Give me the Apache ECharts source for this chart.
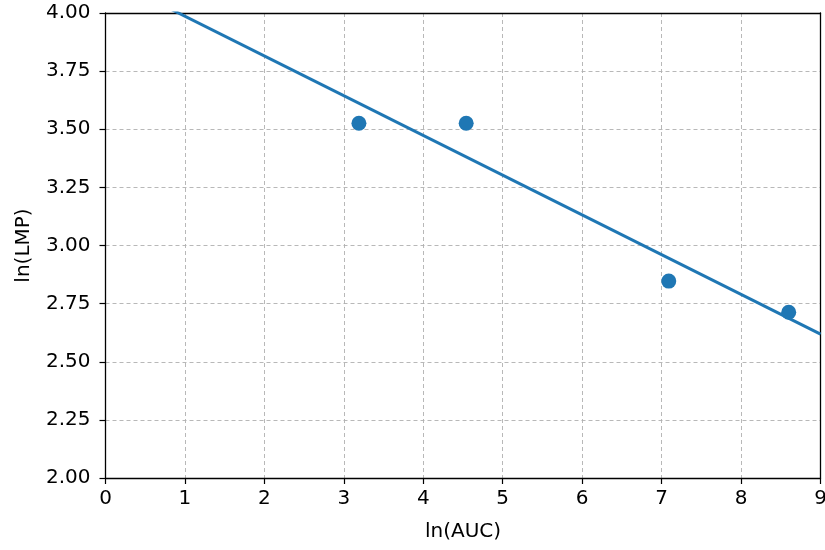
<!DOCTYPE html>
<html><head><meta charset="utf-8">
<script src="https://cdn.jsdelivr.net/npm/echarts@6/dist/echarts.min.js"></script>
<style>html,body{margin:0;padding:0;background:#fff}#c{width:825px;height:550px}</style>
</head><body><div id="c"></div>
<script>
const pointsX = [3.19, 4.54, 7.09, 8.6];
const pointsY = [3.526, 3.526, 2.847, 2.713];
const fitX = [0, 9];
const fitY = [4.157, 2.619];
const xTicks = [0,1,2,3,4,5,6,7,8,9];
const yTicks = [2.00,2.25,2.50,2.75,3.00,3.25,3.50,3.75,4.00];

const font = 'DejaVu Sans';
const chart = echarts.init(document.getElementById('c'));
const axisCommon = {
  axisLine:{show:true,onZero:false,lineStyle:{color:'#000',width:1.3}},
  axisTick:{show:true,inside:false,length:6,lineStyle:{color:'#000',width:1.2}},
  axisLabel:{color:'#000',fontFamily:font,fontSize:20},
  splitLine:{show:true,lineStyle:{color:'#b0b0b0',type:[4,3],width:0.9}},
  nameLocation:'middle',
  nameTextStyle:{color:'#000',fontFamily:font,fontSize:20}
};
const borderAxis = {type:'value',axisLine:{show:true,onZero:false,lineStyle:{color:'#000',width:1.3}},
  axisTick:{show:false},axisLabel:{show:false},splitLine:{show:false}};
chart.setOption({
  animation:false,
  grid:{left:105.5,right:4.5,top:13,bottom:72,outerBoundsMode:'none',containLabel:false},
  xAxis:[Object.assign({},axisCommon,{type:'value',min:0,max:9,interval:1,name:'ln(AUC)',nameGap:44,
    axisLabel:Object.assign({},axisCommon.axisLabel,{margin:11,formatter:v=>String(v)})}),
    Object.assign({},borderAxis,{position:'top',min:0,max:9})],
  yAxis:[Object.assign({},axisCommon,{type:'value',min:2,max:4,interval:0.25,name:'ln(LMP)',nameGap:72,
    axisLabel:Object.assign({},axisCommon.axisLabel,{margin:15,formatter:v=>v.toFixed(2)})}),
    Object.assign({},borderAxis,{position:'right',min:2,max:4})],
  series:[
    {type:'line',data:fitX.map((x,i)=>[x,fitY[i]]),showSymbol:false,clip:true,
     lineStyle:{color:'#1f77b4',width:3},z:3},
    {type:'scatter',data:pointsX.map((x,i)=>[x,pointsY[i]]),symbolSize:15,
     itemStyle:{color:'#1f77b4',opacity:1},z:4}
  ]
});
</script></body></html>
